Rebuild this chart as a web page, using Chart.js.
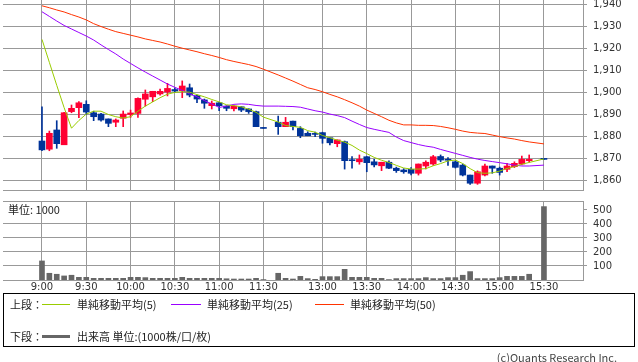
<!DOCTYPE html>
<html>
<head>
<meta charset="utf-8">
<script src="https://cdn.jsdelivr.net/npm/chart.js@4/dist/chart.umd.min.js"></script>
<style>
  body { margin: 0; background: #fff; width: 638px; height: 362px; position: relative; overflow: hidden; font-family: 'Noto Sans CJK JP', sans-serif; color: #222; }
  canvas { position: absolute; left: 0; }
  #price-chart { top: 0; }
  #volume-chart { top: 196px; }
  .txt { position: absolute; font-size: 11px; line-height: 14px; white-space: nowrap; }
  .mark { position: absolute; height: 0; }
  #legend { position: absolute; left: 3px; top: 293px; width: 632px; height: 54px; box-sizing: border-box; border: 1px solid #000; }
</style>
</head>
<body>
<canvas id="price-chart" width="638" height="196"></canvas>
<canvas id="volume-chart" width="638" height="98"></canvas>

<div class="txt" style="left:8px; top:202px;">単位: 1000</div>

<div id="legend"></div>
<div class="txt" style="left:10px; top:297px;">上段：</div>
<div class="mark" style="left:42px; width:28px; top:304px; border-top:1px solid #99cc00;"></div>
<div class="txt" style="left:77px; top:297px;">単純移動平均(5)</div>
<div class="mark" style="left:171px; width:30px; top:304px; border-top:1px solid #9900ff;"></div>
<div class="txt" style="left:207px; top:297px;">単純移動平均(25)</div>
<div class="mark" style="left:315px; width:29px; top:304px; border-top:1px solid #ff3300;"></div>
<div class="txt" style="left:350px; top:297px;">単純移動平均(50)</div>
<div class="txt" style="left:10px; top:329px;">下段：</div>
<div class="mark" style="left:42px; width:28px; top:335px; border-top:3px solid #666;"></div>
<div class="txt" style="left:77px; top:329px;">出来高 単位:(1000株/口/枚)</div>

<div class="txt" style="right:21px; top:350px; color:#444;">(c)Quants Research Inc.</div>

<script>
// 5-minute slots, '' marks the lunch break and the closing auction gap
const times = [
  '9:00','9:05','9:10','9:15','9:20','9:25','9:30','9:35','9:40','9:45',
  '9:50','9:55','10:00','10:05','10:10','10:15','10:20','10:25','10:30','10:35',
  '10:40','10:45','10:50','10:55','11:00','11:05','11:10','11:15','11:20','11:25',
  '11:30','','12:30','12:35','12:40','12:45','12:50','12:55','13:00','13:05',
  '13:10','13:15','13:20','13:25','13:30','13:35','13:40','13:45','13:50','13:55',
  '14:00','14:05','14:10','14:15','14:20','14:25','14:30','14:35','14:40','14:45',
  '14:50','14:55','15:00','15:05','15:10','15:15','15:20','','15:30'
];
const tickLabels = ['9:00','9:30','10:00','10:30','11:00','11:30','13:00','13:30','14:00','14:30','15:00','15:30'];
const priceTicks = [1860, 1870, 1880, 1890, 1900, 1910, 1920, 1930, 1940];
const volumeTicks = [100, 200, 300, 400, 500];

const opens = [
  1878,1874.3,1883,1876.3,1891.3,1893.1,1894.6,1890.8,1890.2,1888,
  1886.5,1888.3,1890,1890.5,1896.9,1898,1899.3,1900.2,1901.3,1900.8,
  1902.1,1898.5,1896.6,1894,1895.3,1893.8,1892.6,1893.5,1892.5,1891.3,
  1883.7,null,1886.5,1884.5,1887,1883.7,1881.5,1881.1,1881.8,1879.5,
  1876.8,1877.7,1869.3,1868.6,1870.9,1868.6,1866.8,1868.4,1865.7,1864.9,
  1865.2,1863.4,1866.7,1867.6,1871,1869.6,1868.6,1867.1,1862.6,1858.9,
  1862.6,1866.7,1865.7,1865.2,1866.4,1867.6,1869.1,null,1869.7
];
const highs = [
  1893.5,1882.5,1887.2,1891,1894.3,1895.8,1896.2,1891.5,1890.5,1888,
  1888,1891.6,1892,1897.5,1901.1,1900.5,1901.5,1904.1,1902,1905.2,
  1903.8,1898.8,1897,1896.1,1895.5,1894,1894,1893.6,1892.6,1891.6,
  1883.7,null,1889.3,1888.7,1887,1884.5,1882.2,1882,1882,1879.5,
  1878.5,1878,1871,1871.7,1871,1869.7,1868.4,1869,1866.2,1865.5,
  1866,1867.6,1869,1871.5,1871.7,1870.5,1869,1867.6,1862.6,1864.5,
  1867.6,1866.7,1866.2,1867.9,1868.6,1871.2,1871.7,null,1869.7
];
const lows = [
  1873.6,1873.6,1874.7,1876.3,1890.8,1888.6,1890,1887.2,1887,1884.5,
  1884.5,1884.5,1888.7,1888.7,1893.8,1895.8,1898.8,1898.4,1900,1897.6,
  1898,1895.3,1892.8,1892.5,1891.7,1891.7,1891.6,1891.3,1890.5,1884.5,
  1883.7,null,1881,1884.5,1883,1879.5,1880.4,1880,1877,1876.2,
  1875.4,1865.3,1865.7,1867.5,1864.1,1866.3,1864.6,1865.5,1863.8,1863.4,
  1862.7,1862.6,1865.4,1867,1868.6,1867,1865.8,1862.2,1858.4,1858.4,
  1862.2,1863.4,1862.6,1864.1,1866,1867.2,1868.4,null,1869.7
];
const closes = [
  1874,1881.5,1876.8,1890.8,1892.8,1895.3,1891.1,1889,1887.5,1886,
  1887.5,1890.2,1890.7,1897.3,1899.3,1900.5,1900.5,1901.8,1900.6,1902.9,
  1898.8,1897,1895.1,1895.1,1894,1892.8,1893.8,1892,1891.3,1884.5,
  1883.7,null,1884.5,1886.5,1884.5,1880.4,1880.4,1881,1879.2,1877.2,
  1878.5,1869.1,1869.1,1869.7,1868.2,1867.2,1868.4,1865.7,1864.6,1864.1,
  1863.4,1867.6,1868.4,1870.9,1869.4,1869.3,1866.1,1862.6,1858.9,1864.1,
  1866.7,1865.7,1863.8,1866.7,1867.9,1869.7,1869.7,null,1869.7
];
const ma5 = [
  1924,1913.6,1903.2,1893.1,1883.8,1887.3,1890.2,1891.5,1891.5,1890,
  1889,1888.4,1889,1891.5,1893.8,1895.7,1897.6,1899.2,1900,1900.3,
  1900.1,1899,1898,1896.8,1895.7,1894.4,1894,1893.5,1892.4,1891,
  1888.8,null,1886.6,1885,1884.6,1884.2,1882.7,1882,1880.5,1879.5,
  1878.4,1877.5,1876,1873.9,1872.3,1870.6,1869.3,1868.3,1867,1865.8,
  1865.3,1865.3,1865.5,1866.8,1867.8,1869,1869.4,1867.8,1865.5,1863.7,
  1863.4,1863.6,1864.4,1865.6,1866.4,1867.5,1868.3,null,1869.9
];
const ma25 = [
  1936.5,1934.4,1932.3,1930.3,1928.7,1927.1,1925.5,1923.7,1921.5,1919.4,
  1917.4,1915.1,1913.1,1911.1,1909.2,1907.4,1905.6,1903.8,1902.3,1900.9,
  1899.4,1898,1896.3,1894.8,1893.2,1893.8,1894.6,1894.8,1894.6,1894.1,
  1893.8,null,1893.8,1893.7,1893.6,1893.3,1892.5,1891.7,1891.1,1890.2,
  1889.5,1888.6,1887,1885.5,1884.1,1883.3,1882.6,1881.9,1879.8,1878.2,
  1877.3,1876.4,1875.7,1875.2,1874.2,1873.3,1872.4,1871.5,1870.6,1869.8,
  1869.2,1868.7,1868.2,1867.7,1867.1,1866.7,1866.7,null,1867.1
];
const ma50 = [
  1939.2,1938.3,1937.3,1936.4,1935.2,1934.1,1932.8,1931.1,1929.8,1928.6,
  1927.5,1926.7,1925.9,1925.1,1924.2,1923.5,1922.8,1921.9,1920.9,1920,
  1919.2,1918.4,1917.5,1916.7,1915.8,1914.8,1914,1913.3,1912.6,1911.7,
  1910.5,null,1907.9,1906.5,1905.1,1903.6,1902.1,1901.3,1900.3,1899.1,
  1898,1896.7,1895.3,1893.8,1892,1890.5,1889,1887.4,1886.2,1885.3,
  1885.3,1885.1,1885.1,1885,1884.6,1884,1883.3,1882.5,1881.9,1881.6,
  1881.4,1880.7,1880,1879.4,1878.9,1878.2,1877.6,null,1876.7
];
const volumes = [
  136,48,41,29,34,19,19,12,12,12,
  12,12,19,19,17,12,12,12,12,19,
  12,12,12,12,12,9,7,7,7,12,
  3,null,48,12,7,26,10,5,24,24,
  24,76,19,19,19,12,12,3,10,10,
  10,10,17,10,10,17,17,34,60,10,
  10,10,17,26,26,26,41,null,524
];

const UP_COLOR = '#ff0033';
const DOWN_COLOR = '#003399';
const GRID_COLOR = '#999';
const X_MIN = -5.28;
const X_MAX = 73.29;

const tickIdx = tickLabels.map((t) => times.indexOf(t));
const axisFont = { family: 'DejaVu Sans', size: 10 };

// helpers to turn the arrays into chart points
const rangePoints = (a, b) => times.map((_, i) => ({ x: i, y: [a[i], b[i]] })).filter((p) => p.y[0] !== null);
const linePoints = (arr) => arr.map((v, i) => ({ x: i, y: v }));
const candleColors = times.map((_, i) => (closes[i] > opens[i] ? UP_COLOR : DOWN_COLOR)).filter((_, i) => opens[i] !== null);

// vertical grid at the time ticks (and an optional top edge), placed by the x scale
const timeGrid = {
  id: 'timeGrid',
  beforeDatasetsDraw(chart, args, opts) {
    const { ctx, chartArea, scales } = chart;
    const align = (px) => Math.round(px - 0.5) + 0.5;
    ctx.save();
    ctx.strokeStyle = GRID_COLOR;
    ctx.lineWidth = 1;
    ctx.beginPath();
    scales.x.ticks.forEach((t) => {
      const px = align(scales.x.getPixelForValue(t.value));
      ctx.moveTo(px, chartArea.top);
      ctx.lineTo(px, chartArea.bottom);
    });
    if (opts.topEdge) {
      const py = align(chartArea.top);
      ctx.moveTo(chartArea.left, py);
      ctx.lineTo(chartArea.right, py);
    }
    ctx.stroke();
    ctx.restore();
  },
};

function xAxis(showLabels) {
  return {
    type: 'linear',
    offset: false,
    min: X_MIN,
    max: X_MAX,
    afterBuildTicks: (s) => { s.ticks = tickIdx.map((v) => ({ value: v })); },
    afterFit: (s) => { s.height = showLabels ? 14 : 0; s.paddingLeft = 0; s.paddingRight = 0; },
    ticks: {
      display: showLabels,
      autoSkip: false,
      maxRotation: 0,
      padding: 1,
      font: axisFont,
      color: '#333',
      callback: (v) => times[v],
    },
    grid: { color: GRID_COLOR, drawTicks: false, offset: false },
    border: { color: GRID_COLOR },
  };
}

function yAxis(min, max, values, format, skipGrid) {
  return {
    position: 'right',
    min,
    max,
    afterBuildTicks: (s) => { s.ticks = values.map((v) => ({ value: v })); },
    afterFit: (s) => { s.width = 55; s.paddingTop = 0; s.paddingBottom = 0; },
    ticks: { font: axisFont, color: '#333', padding: 6, callback: format },
    grid: {
      color: (c) => (c.tick && c.tick.value === skipGrid ? 'rgba(0,0,0,0)' : GRID_COLOR),
      tickColor: GRID_COLOR,
      tickLength: 4,
    },
    border: { color: GRID_COLOR },
  };
}

const chartPlugins = (topEdge) => ({
  legend: { display: false },
  tooltip: { enabled: false },
  timeGrid: { topEdge },
});

// upper panel: candles + moving averages
new Chart(document.getElementById('price-chart'), {
  type: 'bar',
  plugins: [timeGrid],
  data: {
    datasets: [
      { type: 'line', data: linePoints(ma5), borderColor: '#99cc00', borderWidth: 1, pointRadius: 0, tension: 0, spanGaps: true, order: 0 },
      { type: 'line', data: linePoints(ma25), borderColor: '#9900ff', borderWidth: 1, pointRadius: 0, tension: 0, spanGaps: true, order: 1 },
      { type: 'line', data: linePoints(ma50), borderColor: '#ff3300', borderWidth: 1, pointRadius: 0, tension: 0, spanGaps: true, order: 2 },
      { data: rangePoints(opens, closes), backgroundColor: candleColors, barThickness: 6, minBarLength: 1, grouped: false, order: 3 },
      { data: rangePoints(lows, highs), backgroundColor: candleColors, barThickness: 1, minBarLength: 1, grouped: false, order: 4 },
    ],
  },
  options: {
    responsive: false,
    animation: false,
    events: [],
    plugins: chartPlugins(false),
    layout: { padding: { left: 3, top: 0, right: 0, bottom: 6 } },
    scales: {
      x: xAxis(false),
      y: yAxis(1855.84, 1941.81, priceTicks, (v) => v.toLocaleString('en-US'), null),
    },
  },
});

// lower panel: volume
new Chart(document.getElementById('volume-chart'), {
  type: 'bar',
  plugins: [timeGrid],
  data: {
    datasets: [{
      data: volumes.map((v, i) => ({ x: i, y: v })).filter((p) => p.y !== null),
      backgroundColor: '#666',
      barThickness: 5,
    }],
  },
  options: {
    responsive: false,
    animation: false,
    events: [],
    plugins: chartPlugins(true),
    layout: { padding: { left: 3, top: 5, right: 0, bottom: 0 } },
    scales: {
      x: xAxis(true),
      y: yAxis(0, 564, volumeTicks, (v) => String(v), 500),
    },
  },
});
</script>
</body>
</html>
